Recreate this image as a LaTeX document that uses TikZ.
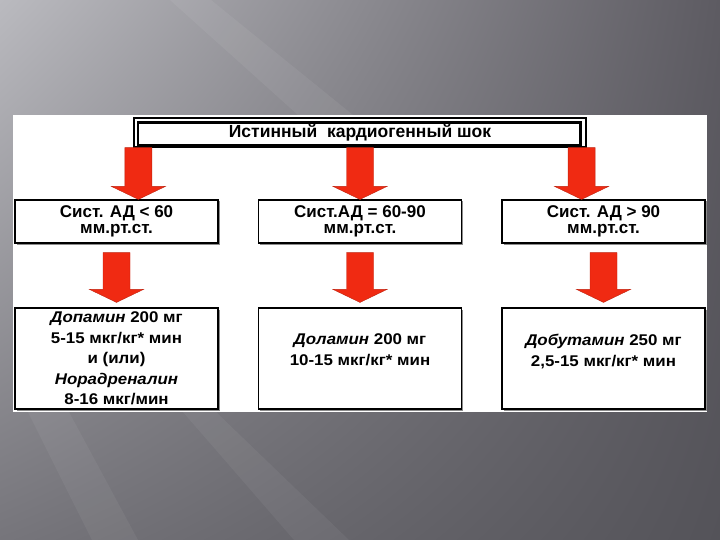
\documentclass[tikz,border=0pt]{standalone}
\usepackage{fontspec}
\setmainfont{Liberation Sans}
\newfontfamily\widesans{Liberation Sans}[FakeStretch=1.09]
\usetikzlibrary{calc,shadows,shadings}

\definecolor{arrred}{RGB}{240,42,18}
\definecolor{bgul}{RGB}{186,186,191}
\definecolor{bgur}{RGB}{93,91,98}
\definecolor{bgll}{RGB}{118,117,123}
\definecolor{bglr}{RGB}{84,83,89}

\tikzset{
  titlebox/.style={draw, line width=1.2pt, fill=white, minimum width=452pt, minimum height=29pt,
    inner sep=0pt, font=\fontsize{17.5}{18}\selectfont\bfseries},
  condbox/.style={draw, line width=1.2pt, fill=white, minimum width=203pt, minimum height=43pt,
    align=center, inner sep=0pt, font=\fontsize{17}{16}\selectfont\bfseries,
    drop shadow={shadow xshift=1.5pt, shadow yshift=-1.5pt, fill=black!45, opacity=1}},
  dosebox/.style={draw, line width=1.2pt, fill=white, minimum width=203pt, minimum height=101pt,
    drop shadow={shadow xshift=1.5pt, shadow yshift=-1.5pt, fill=black!45, opacity=1}},
  dosetext/.style={align=center, inner sep=0pt, font=\widesans\fontsize{15.5}{20.5}\selectfont\bfseries},
  blockarr/.style={fill=arrred, draw=arrred!80!black, line width=0.4pt,
    to path={let \p1=(\tikztostart), \p2=(\tikztotarget) in
      (\x1-13.5pt,\y1) -- (\x1+13.5pt,\y1) -- (\x1+13.5pt,\y2+13pt) -- (\x1+27pt,\y2+13pt)
      -- (\x1,\y2) -- (\x1-27pt,\y2+13pt) -- (\x1-13.5pt,\y2+13pt) -- cycle}}
}

\begin{document}
\begin{tikzpicture}[x=1pt, y=-1pt]
  \useasboundingbox (0,0) rectangle (720,540);

  % slide background
  \shade[upper left=bgul, upper right=bgur, lower left=bgll, lower right=bglr] (0,0) rectangle (720,540);
  \fill[white, opacity=0.06] (170,0) -- (211,0) -- (353,115) -- (298,115) -- cycle;
  \fill[white, opacity=0.05] (28,412) -- (69,412) -- (138,540) -- (92,540) -- cycle;
  \fill[white, opacity=0.05] (183,412) -- (216,412) -- (349,540) -- (294,540) -- cycle;
  \fill[white] (13,115) rectangle (707,412);

  % Title
  \node[titlebox] (ttl) at (360,132.5) {Истинный~~кардиогенный шок};
  \draw[line width=2.6pt] ([shift={(4.5pt,2.5pt)}]ttl.south west) rectangle ([shift={(-6pt,-5pt)}]ttl.north east);

  % Pressure boxes
  \node[condbox] (c1) at (116.5,221.5) {Сист. АД < 60\\мм.рт.ст.};
  \node[condbox] (c2) at (360,221.5) {Сист.АД = 60-90\\мм.рт.ст.};
  \node[condbox] (c3) at (603.5,221.5) {Сист. АД > 90\\мм.рт.ст.};

  % Drug boxes
  \node[dosebox] (d1) at (116.5,358.5) {};
  \node[dosetext] (d1t) at (d1.center) {\textit{Допамин} 200 мг\\5-15 мкг/кг* мин\\и (или)\\\textit{Норадреналин}\\8-16 мкг/мин};
  \node[dosebox] (d2) at (360,358.5) {};
  \node[dosetext] (d2t) at ([yshift=9pt]d2.center) {\textit{Доламин} 200 мг\\10-15 мкг/кг* мин};
  \node[dosebox] (d3) at (603.5,358.5) {};
  \node[dosetext] (d3t) at ([yshift=7pt]d3.center) {\textit{Добутамин} 250 мг\\2,5-15 мкг/кг* мин};

  % Arrows
  \coordinate (a1) at ([xshift=5pt]ttl.south west);
  \coordinate (a3) at ([xshift=-5pt]ttl.south east);
  \draw[blockarr] (a1) to (a1 |- c1.north);
  \draw[blockarr] (ttl.south) to (ttl.south |- c2.north);
  \draw[blockarr] (a3) to (a3 |- c3.north);
  \draw[blockarr] ([yshift=-9pt]c1.south) to ([yshift=5pt]d1.north);
  \draw[blockarr] ([yshift=-9pt]c2.south) to ([yshift=5pt]d2.north);
  \draw[blockarr] ([yshift=-9pt]c3.south) to ([yshift=5pt]d3.north);
\end{tikzpicture}
\end{document}
